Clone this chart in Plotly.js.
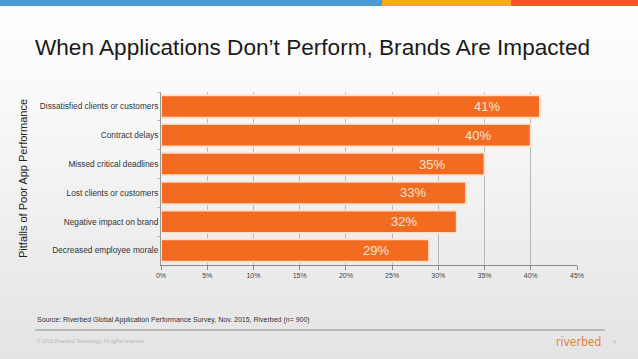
<!DOCTYPE html>
<html>
<head>
<meta charset="utf-8">
<script src="https://cdn.plot.ly/plotly-3.0.1.min.js"></script>
<style>
html,body{margin:0;padding:0;}
#wrap{width:638px;height:359px;background:linear-gradient(to bottom,#ffffff 0%,#f7f7f7 35%,#e4e4e4 100%);}
#chart{width:638px;height:359px;}
</style>
</head>
<body>
<div id="wrap"><div id="chart"></div></div>
<script>
var categories = ["Dissatisfied clients or customers","Contract delays","Missed critical deadlines","Lost clients or customers","Negative impact on brand","Decreased employee morale"];
var values = [41, 40, 35, 33, 32, 29];
var tickVals = [0,5,10,15,20,25,30,35,40,45];

// plot area in px: left 161, right 577, top 92, bottom 265
var L=161, R=577, T=92, B=265, W=638, H=359;
function px(x){return (x-L)/(R-L);}
function py(y){return (B-y)/(B-T);}

var trace = {
  type:'bar', orientation:'h',
  x: values, y: categories,
  width: 0.78,
  marker:{color:'#f36b21', line:{color:'rgba(255,228,208,0.95)', width:2}},
  hoverinfo:'none'
};

var annotations = values.map(function(v,i){
  return {x:v, y:categories[i], xref:'x', yref:'y', text:v+'%', showarrow:false,
    xanchor:'center', xshift:-53, font:{family:'Liberation Sans, Arial', size:13, color:'#fde6d6'}};
});
annotations.push({xref:'paper', yref:'paper', x:px(35), y:py(320), xanchor:'left', yanchor:'middle', showarrow:false,
  text:'Source: Riverbed Global Application Performance Survey, Nov. 2015, Riverbed (n= 900)',
  font:{family:'Liberation Sans, Arial', size:7, color:'#333'}});
annotations.push({xref:'paper', yref:'paper', x:px(35), y:py(341), xanchor:'left', yanchor:'middle', showarrow:false,
  text:'© 2015 Riverbed Technology. All rights reserved.',
  font:{family:'Liberation Sans, Arial', size:5, color:'#b5b5b5'}});
annotations.push({xref:'paper', yref:'paper', x:px(603), y:py(342), xanchor:'right', yanchor:'middle', showarrow:false,
  text:'riverbed',
  font:{family:'DejaVu Sans Condensed, DejaVu Sans', size:12, color:'#e8832c'}});
annotations.push({xref:'paper', yref:'paper', x:px(614), y:py(342), xanchor:'center', yanchor:'middle', showarrow:false,
  text:'4',
  font:{family:'Liberation Sans, Arial', size:5, color:'#b5b5b5'}});

var shapes = [
  {type:'rect', xref:'paper', yref:'paper', x0:px(0), x1:px(382), y0:py(0), y1:py(6), fillcolor:'#4a9bd6', line:{width:0}, layer:'above'},
  {type:'rect', xref:'paper', yref:'paper', x0:px(382), x1:px(511), y0:py(0), y1:py(6), fillcolor:'#f6a925', line:{width:0}, layer:'above'},
  {type:'rect', xref:'paper', yref:'paper', x0:px(511), x1:px(638), y0:py(0), y1:py(6), fillcolor:'#f15a27', line:{width:0}, layer:'above'},
  {type:'line', xref:'paper', yref:'paper', x0:px(35), x1:px(605), y0:py(330), y1:py(330), line:{color:'#8a8a8a', width:1}}
];

var layout = {
  width:W, height:H,
  margin:{l:L, r:W-R, t:T, b:H-B, pad:0},
  paper_bgcolor:'rgba(0,0,0,0)', plot_bgcolor:'rgba(0,0,0,0)',
  showlegend:false,
  title:{text:'When Applications Don’t Perform, Brands Are Impacted', xref:'container', yref:'container',
    x:312.5/W, y:1-47/H, xanchor:'center', yanchor:'middle',
    font:{family:'Liberation Sans, Arial', size:22.6, color:'#1a1a1a'}},
  xaxis:{range:[0,45], tickvals:tickVals, ticktext:tickVals.map(function(t){return t+'%';}),
    showgrid:true, gridcolor:'#a0a0a0', gridwidth:0.7, zeroline:false,
    showline:true, linecolor:'#8a8a8a', linewidth:1,
    ticks:'outside', ticklen:4, tickcolor:'#8a8a8a',
    tickfont:{family:'Liberation Sans, Arial', size:7, color:'#444'}, fixedrange:true},
  yaxis:{autorange:'reversed', type:'category', tickson:'boundaries',
    showline:true, linecolor:'#9a9a9a', linewidth:1,
    ticks:'outside', ticklen:3, tickcolor:'#bbbbbb',
    showgrid:false, zeroline:false,
    tickfont:{family:'Liberation Sans, Arial', size:8.3, color:'#333'},
    title:{text:'Pitfalls of Poor App Performance', standoff:9, font:{family:'Liberation Sans, Arial', size:11, color:'#222'}},
    fixedrange:true},
  annotations:annotations,
  shapes:shapes
};

Plotly.newPlot('chart',[trace],layout,{displayModeBar:false, staticPlot:true});
</script>
</body>
</html>
